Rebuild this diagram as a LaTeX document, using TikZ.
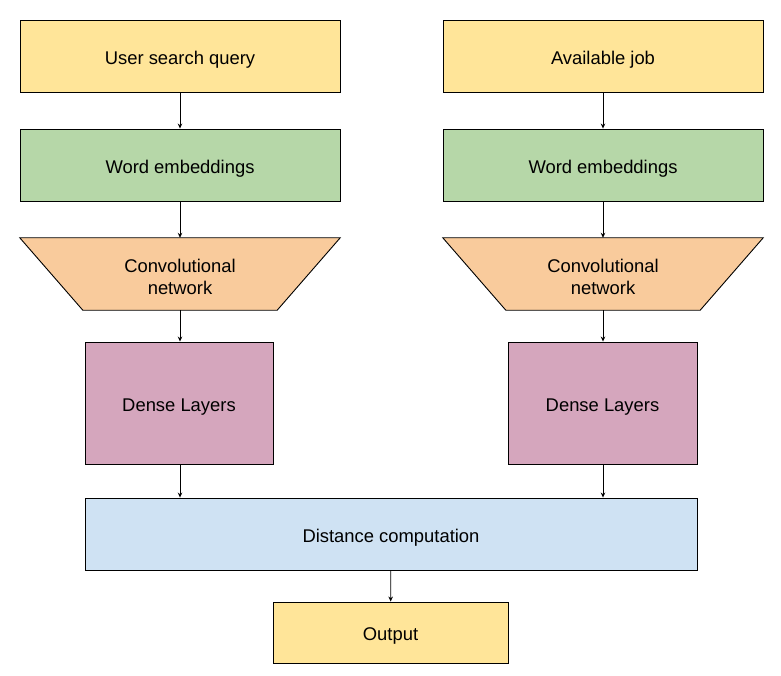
\documentclass[tikz,border=0pt]{standalone}
\usepackage{fontspec}
\setmainfont{Liberation Sans}
\usetikzlibrary{arrows.meta,backgrounds}
\definecolor{inyellow}{HTML}{FFE599}
\definecolor{embgreen}{HTML}{B6D7A8}
\definecolor{convorange}{HTML}{F9CB9C}
\definecolor{densepink}{HTML}{D5A6BD}
\definecolor{distblue}{HTML}{CFE2F3}
\tikzset{
    txt/.style={align=center, font=\fontsize{18.4}{22}\selectfont},
    blk/.style={txt, draw=black, line width=0.9pt, inner sep=0pt,
        text height=20pt, text depth=3.9pt},
    convbox/.style={inner sep=0pt, minimum width=320, minimum height=72},
    trap/.style={draw=black, line width=0.9pt, fill=convorange, line join=miter},
    flow/.style={-{Stealth[length=5pt,width=4.5pt]}, line width=0.8pt}
}
\begin{document}
\begin{tikzpicture}[x=1pt, y=-1pt]
    \useasboundingbox (0,0) rectangle (781,676);
    % left branch
    \node[blk, fill=inyellow, minimum width=320, minimum height=72] (queryL) at (180,56) {User search query};
    \node[blk, fill=embgreen, minimum width=320, minimum height=72] (embL) at (180,165) {Word embeddings};
    \node[convbox] (convL) at (180,274) {};
    \node[txt] (convLtxt) at (180,276.5) {Convolutional\\network};
    \node[blk, fill=densepink, minimum width=188, minimum height=122] (denseL) at (179,403) {Dense Layers};
    % right branch
    \node[blk, fill=inyellow, minimum width=320, minimum height=72] (jobR) at (603,56) {Available job};
    \node[blk, fill=embgreen, minimum width=320, minimum height=72] (embR) at (603,165) {Word embeddings};
    \node[convbox] (convR) at (603,274) {};
    \node[txt] (convRtxt) at (603,276.5) {Convolutional\\network};
    \node[blk, fill=densepink, minimum width=189, minimum height=122] (denseR) at (602.5,403) {Dense Layers};
    % merge
    \node[blk, fill=distblue, minimum width=612, minimum height=72] (dist) at (391,534) {Distance computation};
    \node[blk, fill=inyellow, minimum width=235, minimum height=61] (out) at (390.5,632.5) {Output};
    % trapezoids behind the conv text
    \begin{scope}[on background layer]
        \foreach \c in {convL,convR}
            \draw[trap] (\c.north west) -- (\c.north east)
                -- ([xshift=-63pt]\c.south east) -- ([xshift=63pt]\c.south west) -- cycle;
    \end{scope}
    \draw[flow] (queryL) -- (embL);
    \draw[flow] (embL) -- (convL);
    \draw[flow] (convL) -- (convL |- denseL.north);
    \draw[flow] (jobR) -- (embR);
    \draw[flow] (embR) -- (convR);
    \draw[flow] (convR) -- (convR |- denseR.north);
    \draw[flow] (denseL.south -| convL) -- (convL |- dist.north);
    \draw[flow] (denseR.south -| convR) -- (convR |- dist.north);
    \draw[flow] (dist) -- (out);
\end{tikzpicture}
\end{document}
